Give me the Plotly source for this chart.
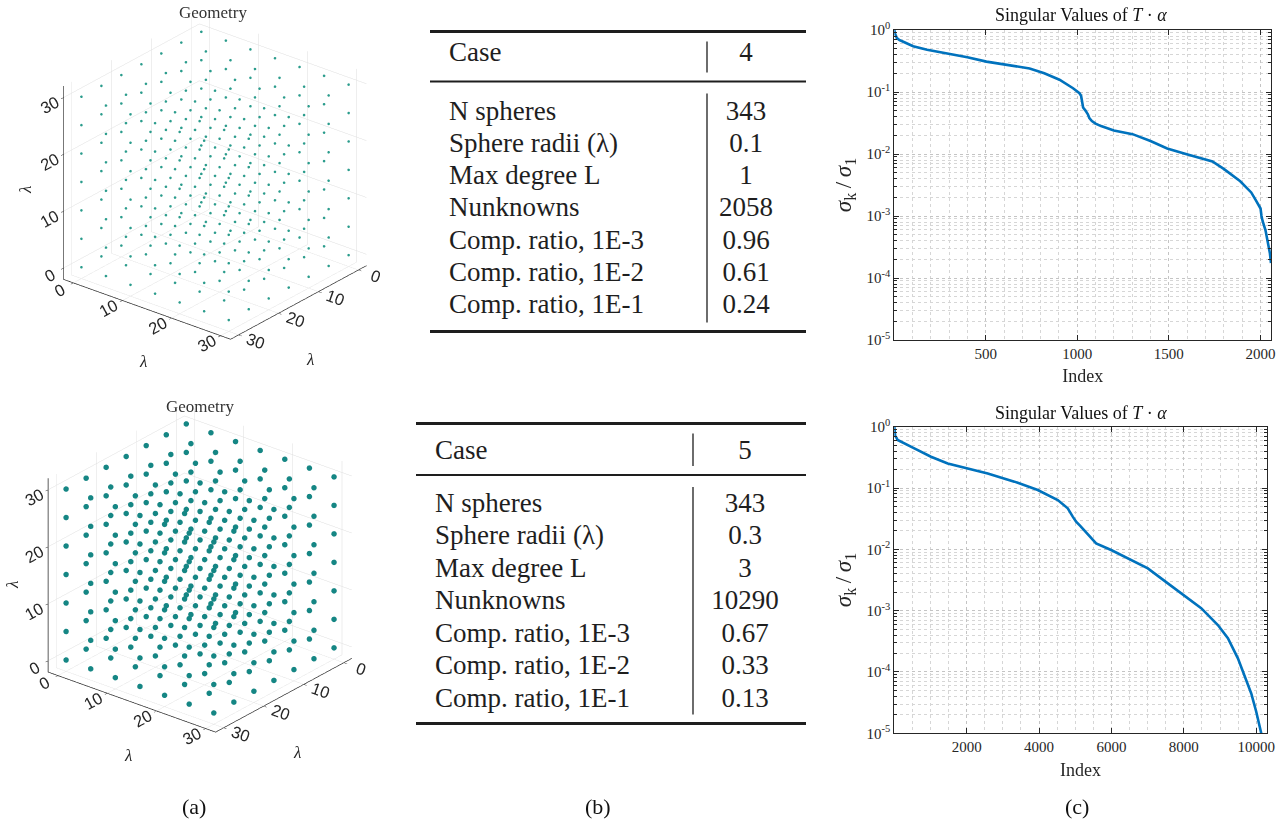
import plotly.graph_objects as go

W, H = 1288, 828

# ---------------- data ----------------
grid_coords = [0, 5, 10, 15, 20, 25, 30]          # 7 x 7 x 7 = 343 spheres

row_labels = ["N spheres", "Sphere radii (λ)", "Max degree L", "Nunknowns",
              "Comp. ratio, 1E-3", "Comp. ratio, 1E-2", "Comp. ratio, 1E-1"]
case_ids = ["4", "5"]
case4_values = ["343", "0.1", "1", "2058", "0.96", "0.61", "0.24"]
case5_values = ["343", "0.3", "3", "10290", "0.67", "0.33", "0.13"]

sv4_index = [1, 5, 15, 30, 50, 104, 180, 286, 400, 504, 620, 740, 820, 903, 977,
             1012, 1021, 1026, 1032, 1045, 1058, 1066, 1080, 1100, 1130, 1200,
             1302, 1400, 1491, 1593, 1680, 1738, 1800, 1847, 1890, 1920, 1950,
             1974, 2001, 2006, 2012, 2028, 2043, 2052, 2058]
sv4_value = [1.0, 0.871, 0.741, 0.684, 0.646, 0.547, 0.479, 0.421, 0.363, 0.309,
             0.272, 0.240, 0.200, 0.158, 0.115, 0.0955, 0.0871, 0.0661, 0.0562,
             0.0501, 0.0437, 0.0380, 0.0339, 0.0309, 0.0282, 0.0240, 0.0209,
             0.0162, 0.0123, 0.0100, 0.00851, 0.00759, 0.00575, 0.00457, 0.00363,
             0.00295, 0.00240, 0.00182, 0.00132, 0.00100, 0.000832, 0.000589,
             0.000363, 0.000251, 0.000174]

sv5_index = [1, 10, 25, 60, 93, 554, 1015, 1476, 2029, 2582, 3319, 3964, 4517,
             4793, 4931, 5024, 5144, 5577, 5992, 6637, 7006, 7559, 8001, 8480,
             8941, 9218, 9494, 9678, 9863, 10001, 10139, 10290]
sv5_value = [1.0, 0.794, 0.708, 0.661, 0.607, 0.444, 0.324, 0.252, 0.209, 0.173,
             0.127, 0.0927, 0.0637, 0.0466, 0.0341, 0.0282, 0.0240, 0.0125,
             0.00975, 0.00631, 0.00490, 0.00279, 0.00180, 0.00110, 0.000583,
             0.000355, 0.000167, 0.0000891, 0.0000447, 0.0000225, 0.0000100,
             0.00000251]

x4_ticks = [500, 1000, 1500, 2000]
x5_ticks = [2000, 4000, 6000, 8000, 10000]
log_tick_vals = [1e-5, 1e-4, 1e-3, 1e-2, 1e-1, 1e0]
log_tick_text = ["10<sup>-5</sup>", "10<sup>-4</sup>", "10<sup>-3</sup>",
                 "10<sup>-2</sup>", "10<sup>-1</sup>", "10<sup>0</sup>"]

# ---------------- helpers ----------------
def px(x):
    return x / W

def py(y):
    return 1 - y / H

SERIF = "Liberation Serif"
SANS = "Liberation Sans"
INK = "#262626"
TEAL_SMALL = "#2a9c8c"
TEAL_BIG = "#158684"
LINE_BLUE = "#0072BD"

fig = go.Figure()

# ---------------- (a) geometry scenes ----------------
gx, gy, gz = [], [], []
for a in grid_coords:
    for b in grid_coords:
        for c in grid_coords:
            gx.append(a); gy.append(b); gz.append(c)

fig.add_trace(go.Scatter3d(x=gx, y=gy, z=gz, mode="markers", scene="scene",
                           marker=dict(size=1.5, color=TEAL_SMALL, line=dict(width=0)),
                           hoverinfo="skip", showlegend=False))
fig.add_trace(go.Scatter3d(x=gx, y=gy, z=gz, mode="markers", scene="scene2",
                           marker=dict(size=3.2, color=TEAL_BIG, line=dict(width=0)),
                           hoverinfo="skip", showlegend=False))

def axis3d():
    return dict(range=[-2, 32], tickvals=[0, 10, 20, 30], showbackground=False,
                gridcolor="#dedede", gridwidth=1, showline=True, linecolor=INK,
                linewidth=1.5, zeroline=False, ticks="outside", ticklen=4,
                tickcolor=INK, showspikes=False,
                tickfont=dict(family=SANS, size=14, color=INK),
                title=dict(text=""))

eye = dict(x=1.106, y=0.90, z=0.62)
ASP = 1.136

def scene_cfg(x0, x1, y0, y1, cz):
    return dict(domain=dict(x=[px(x0), px(x1)], y=[py(y1), py(y0)]),
                xaxis=axis3d(), yaxis=axis3d(), zaxis=axis3d(),
                aspectmode="manual", aspectratio=dict(x=ASP, y=ASP, z=ASP),
                dragmode=False, bgcolor="rgba(0,0,0,0)",
                camera=dict(eye=eye, up=dict(x=0, y=0, z=1),
                            center=dict(x=0, y=0, z=cz),
                            projection=dict(type="orthographic")))

# ---------------- (c) singular value curves ----------------
fig.add_trace(go.Scatter(x=sv4_index, y=sv4_value, mode="lines",
                         line=dict(color=LINE_BLUE, width=2.6),
                         xaxis="x", yaxis="y", hoverinfo="skip", showlegend=False))
fig.add_trace(go.Scatter(x=sv5_index, y=sv5_value, mode="lines",
                         line=dict(color=LINE_BLUE, width=2.6),
                         xaxis="x2", yaxis="y2", hoverinfo="skip", showlegend=False))

def xaxis_cfg(domain, rng, ticks, minor_dtick, anchor):
    return dict(domain=domain, range=rng, anchor=anchor, automargin=False,
                tickmode="array", tickvals=ticks, ticktext=[str(t) for t in ticks],
                showline=True, linecolor=INK, linewidth=1.2, mirror="ticks",
                ticks="inside", ticklen=5, tickcolor=INK,
                showgrid=True, gridcolor="#c4c4c4", griddash="dot", gridwidth=1,
                zeroline=False,
                minor=dict(tickmode="linear", dtick=minor_dtick, tick0=0, showgrid=True,
                           gridcolor="#d6d6d6", griddash="dot", gridwidth=1,
                           ticks=""),
                tickfont=dict(family=SERIF, size=15, color=INK),
                title=dict(text="Index", standoff=8,
                           font=dict(family=SERIF, size=18, color=INK)))

def yaxis_cfg(domain, anchor):
    return dict(domain=domain, type="log", range=[-5, 0], anchor=anchor, automargin=False,
                tickmode="array", tickvals=log_tick_vals, ticktext=log_tick_text,
                showline=True, linecolor=INK, linewidth=1.2, mirror="ticks",
                ticks="inside", ticklen=5, tickcolor=INK,
                showgrid=True, gridcolor="#c4c4c4", griddash="dot", gridwidth=1,
                zeroline=False,
                minor=dict(dtick="D1", showgrid=True, gridcolor="#d6d6d6",
                           griddash="dot", gridwidth=1, ticks="inside", ticklen=3,
                           tickcolor=INK),
                tickfont=dict(family=SERIF, size=15, color=INK),
                title=dict(text="<i>σ</i><sub>k</sub>\u2009/\u2009<i>σ</i><sub>1</sub>",
                           standoff=8, font=dict(family=SERIF, size=23, color=INK)))

# ---------------- (b) tables (pixel overlay axis) ----------------
TFONT = dict(family=SERIF, size=27, color="#1e1e1e")

def add_table(values, case_id, left, right, sep_x, top_rule, header_y, mid_rule,
              first_row_y, row_step, bottom_rule, text_x, val_x):
    ys = [first_row_y + i * row_step for i in range(len(values))]
    fig.add_trace(go.Scatter(x=[text_x] * (len(values) + 1), y=[header_y] + ys,
                             mode="text", text=["Case"] + row_labels,
                             textposition="middle right", textfont=TFONT,
                             xaxis="x3", yaxis="y3", hoverinfo="skip", showlegend=False))
    fig.add_trace(go.Scatter(x=[val_x] * (len(values) + 1), y=[header_y] + ys,
                             mode="text", text=[case_id] + values,
                             textposition="middle center", textfont=TFONT,
                             xaxis="x3", yaxis="y3", hoverinfo="skip", showlegend=False))
    return [
        dict(type="line", xref="x3", yref="y3", x0=left, x1=right, y0=top_rule, y1=top_rule,
             line=dict(color="#1e1e1e", width=3)),
        dict(type="line", xref="x3", yref="y3", x0=left, x1=right, y0=mid_rule, y1=mid_rule,
             line=dict(color="#1e1e1e", width=2)),
        dict(type="line", xref="x3", yref="y3", x0=left, x1=right, y0=bottom_rule, y1=bottom_rule,
             line=dict(color="#1e1e1e", width=3)),
        dict(type="line", xref="x3", yref="y3", x0=sep_x, x1=sep_x,
             y0=top_rule + 10, y1=mid_rule - 9, line=dict(color="#1e1e1e", width=1.3)),
        dict(type="line", xref="x3", yref="y3", x0=sep_x, x1=sep_x,
             y0=mid_rule + 12, y1=bottom_rule - 9, line=dict(color="#1e1e1e", width=1.3)),
    ]

shapes = []
shapes += add_table(case4_values, case_ids[0], left=430, right=806, sep_x=707,
                    top_rule=31.5, header_y=54, mid_rule=81.5, first_row_y=113,
                    row_step=32.2, bottom_rule=331.5, text_x=449, val_x=746)
shapes += add_table(case5_values, case_ids[1], left=416, right=806, sep_x=693,
                    top_rule=423.5, header_y=452, mid_rule=475, first_row_y=505,
                    row_step=32.5, bottom_rule=723.5, text_x=435, val_x=745)

# ---------------- annotations ----------------
ann = []
for (x, y) in [(213, 13), (200, 407)]:
    ann.append(dict(x=px(x), y=py(y), xref="paper", yref="paper", text="Geometry",
                    showarrow=False, xanchor="center", yanchor="middle",
                    font=dict(family=SERIF, size=17, color="#333333")))
# 3D axis titles (lambda)
for (x, y, ang) in [(143, 362, 0), (310, 360, 0), (25, 190, -90),
                    (128, 755, 0), (297, 752, 0), (12, 585, -90)]:
    ann.append(dict(x=px(x), y=py(y), xref="paper", yref="paper", text="<i>λ</i>",
                    showarrow=False, xanchor="center", yanchor="middle", textangle=ang,
                    font=dict(family=SERIF, size=17, color=INK)))
for y in [15, 413]:
    ann.append(dict(x=px(1081), y=py(y), xref="paper", yref="paper",
                    text="Singular Values of <i>T</i> · <i>α</i>",
                    showarrow=False, xanchor="center", yanchor="middle",
                    font=dict(family=SERIF, size=18, color="#111111")))
for (x, t) in [(194, "(a)"), (598, "(b)"), (1077, "(c)")]:
    ann.append(dict(x=px(x), y=py(806), xref="paper", yref="paper", text=t,
                    showarrow=False, xanchor="center", yanchor="middle",
                    font=dict(family=SERIF, size=22, color="#111111")))

fig.update_layout(
    width=W, height=H, margin=dict(l=0, r=0, t=0, b=0, autoexpand=False),
    paper_bgcolor="white", plot_bgcolor="rgba(0,0,0,0)", showlegend=False,
    scene=scene_cfg(14.5, 414.5, 0, 379, -0.08),
    scene2=scene_cfg(0, 400, 392, 772, -0.08),
    xaxis=xaxis_cfg([px(894.3), px(1271)], [1, 2058], x4_ticks, 100, "y"),
    yaxis=yaxis_cfg([py(340), py(30)], "x"),
    xaxis2=xaxis_cfg([px(894.3), px(1266.7)], [1, 10290], x5_ticks, 500, "y2"),
    yaxis2=yaxis_cfg([py(733.3), py(426.7)], "x2"),
    xaxis3=dict(domain=[0, 1], range=[0, W], visible=False, fixedrange=True, anchor="y3"),
    yaxis3=dict(domain=[0, 1], range=[H, 0], visible=False, fixedrange=True, anchor="x3"),
    shapes=shapes, annotations=ann,
)

fig.write_html("out.html", config={"displayModeBar": False})
